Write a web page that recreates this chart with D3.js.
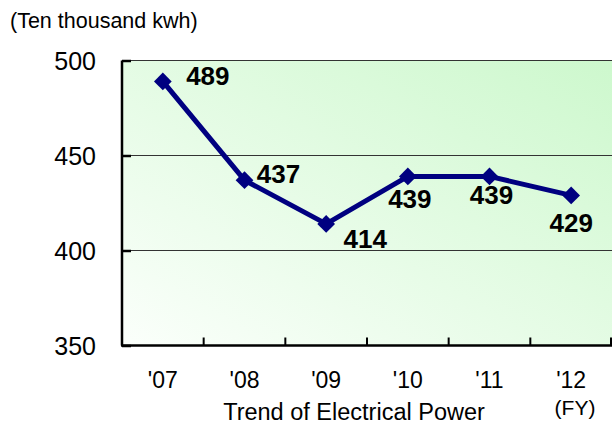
<!DOCTYPE html>
<html>
<head>
<meta charset="utf-8">
<script src="https://cdn.jsdelivr.net/npm/d3@7"></script>
<style>
  body { margin: 0; background: #fff; }
  svg { display: block; font-family: Arial, "Liberation Sans", sans-serif; }
</style>
</head>
<body>
<svg width="612" height="425"></svg>
<script>
const years = ["'07", "'08", "'09", "'10", "'11", "'12"];
const power = [489, 437, 414, 439, 439, 429];
const yTicks = [350, 400, 450, 500];

// label offsets from each point (dx, dy to baseline)
const labelOffsets = [[45, 4], [34, 3], [39, 24], [2, 32], [2, 28], [0, 37]];

const margin = { left: 122, right: 0, top: 60.5, bottom: 79.5 };
const width = 612, height = 425;

const svg = d3.select('svg');

const x = d3.scaleBand()
  .domain(years)
  .range([margin.left, width - margin.right]);

const y = d3.scaleLinear()
  .domain([350, 500])
  .range([height - margin.bottom, margin.top]);

const defs = svg.append('defs');
const grad = defs.append('linearGradient')
  .attr('id', 'bg')
  .attr('x1', '0%').attr('y1', '100%')
  .attr('x2', '100%').attr('y2', '0%');
grad.append('stop').attr('offset', '0%').attr('stop-color', '#fbfffb');
grad.append('stop').attr('offset', '100%').attr('stop-color', '#cdf8cd');

svg.append('rect')
  .attr('x', margin.left)
  .attr('y', margin.top)
  .attr('width', width - margin.right - margin.left)
  .attr('height', y(350) - y(500))
  .attr('fill', 'url(#bg)');

// gridlines
svg.append('g')
  .selectAll('line')
  .data(yTicks.filter(d => d > 350))
  .join('line')
    .attr('x1', margin.left)
    .attr('x2', width - margin.right)
    .attr('y1', d => y(d))
    .attr('y2', d => y(d))
    .attr('stroke', '#333')
    .attr('stroke-width', 1.2);

// y axis
const yAxis = svg.append('g')
  .attr('transform', `translate(${margin.left},0)`)
  .call(d3.axisRight(y).tickValues(yTicks).tickSize(9).tickFormat(''));
yAxis.select('.domain').attr('stroke', '#000').attr('stroke-width', 2.5)
  .attr('d', `M0,${y(500)}V${y(350)}`);
yAxis.selectAll('.tick line').attr('stroke', '#000').attr('stroke-width', 2.5);

svg.append('g')
  .selectAll('text')
  .data(yTicks)
  .join('text')
    .attr('x', 96)
    .attr('y', d => y(d))
    .attr('dy', '0.36em')
    .attr('text-anchor', 'end')
    .attr('font-size', 25)
    .attr('fill', '#000')
    .text(d => d);

// x axis: ticks between categories, pointing up
const bounds = years.slice(1).map(d => x(d)).concat([width - 1]);
const xAxis = svg.append('g');
xAxis.append('line')
  .attr('x1', margin.left - 1)
  .attr('x2', width)
  .attr('y1', y(350))
  .attr('y2', y(350))
  .attr('stroke', '#000')
  .attr('stroke-width', 2.5);
xAxis.selectAll('line.tk')
  .data(bounds)
  .join('line')
    .attr('class', 'tk')
    .attr('x1', d => d)
    .attr('x2', d => d)
    .attr('y1', y(350))
    .attr('y2', y(350) - 8)
    .attr('stroke', '#000')
    .attr('stroke-width', 2);

svg.append('g')
  .selectAll('text')
  .data(years)
  .join('text')
    .attr('x', d => x(d) + x.bandwidth() / 2)
    .attr('y', 388)
    .attr('text-anchor', 'middle')
    .attr('font-size', 23)
    .text(d => d);

svg.append('text')
  .attr('x', 575)
  .attr('y', 415)
  .attr('text-anchor', 'middle')
  .attr('font-size', 21)
  .text('(FY)');

svg.append('text')
  .attr('x', 354)
  .attr('y', 420)
  .attr('text-anchor', 'middle')
  .attr('font-size', 23.5)
  .text('Trend of Electrical Power');

svg.append('text')
  .attr('x', 10)
  .attr('y', 28)
  .attr('font-size', 21.5)
  .text('(Ten thousand kwh)');

// line + markers
const cx = (d, i) => x(years[i]) + x.bandwidth() / 2;
const line = d3.line()
  .x((d, i) => cx(d, i))
  .y(d => y(d));

svg.append('path')
  .datum(power)
  .attr('d', line)
  .attr('fill', 'none')
  .attr('stroke', '#000080')
  .attr('stroke-width', 5)
  .attr('stroke-linejoin', 'round');

svg.append('g')
  .selectAll('path')
  .data(power)
  .join('path')
    .attr('transform', (d, i) => `translate(${cx(d, i)},${y(d)})`)
    .attr('d', d3.symbol(d3.symbolDiamond2, 200))
    .attr('fill', '#000080');

svg.append('g')
  .selectAll('text')
  .data(power)
  .join('text')
    .attr('x', (d, i) => cx(d, i) + labelOffsets[i][0])
    .attr('y', (d, i) => y(d) + labelOffsets[i][1])
    .attr('text-anchor', 'middle')
    .attr('font-size', 26)
    .attr('font-weight', 'bold')
    .text(d => d);
</script>
</body>
</html>
